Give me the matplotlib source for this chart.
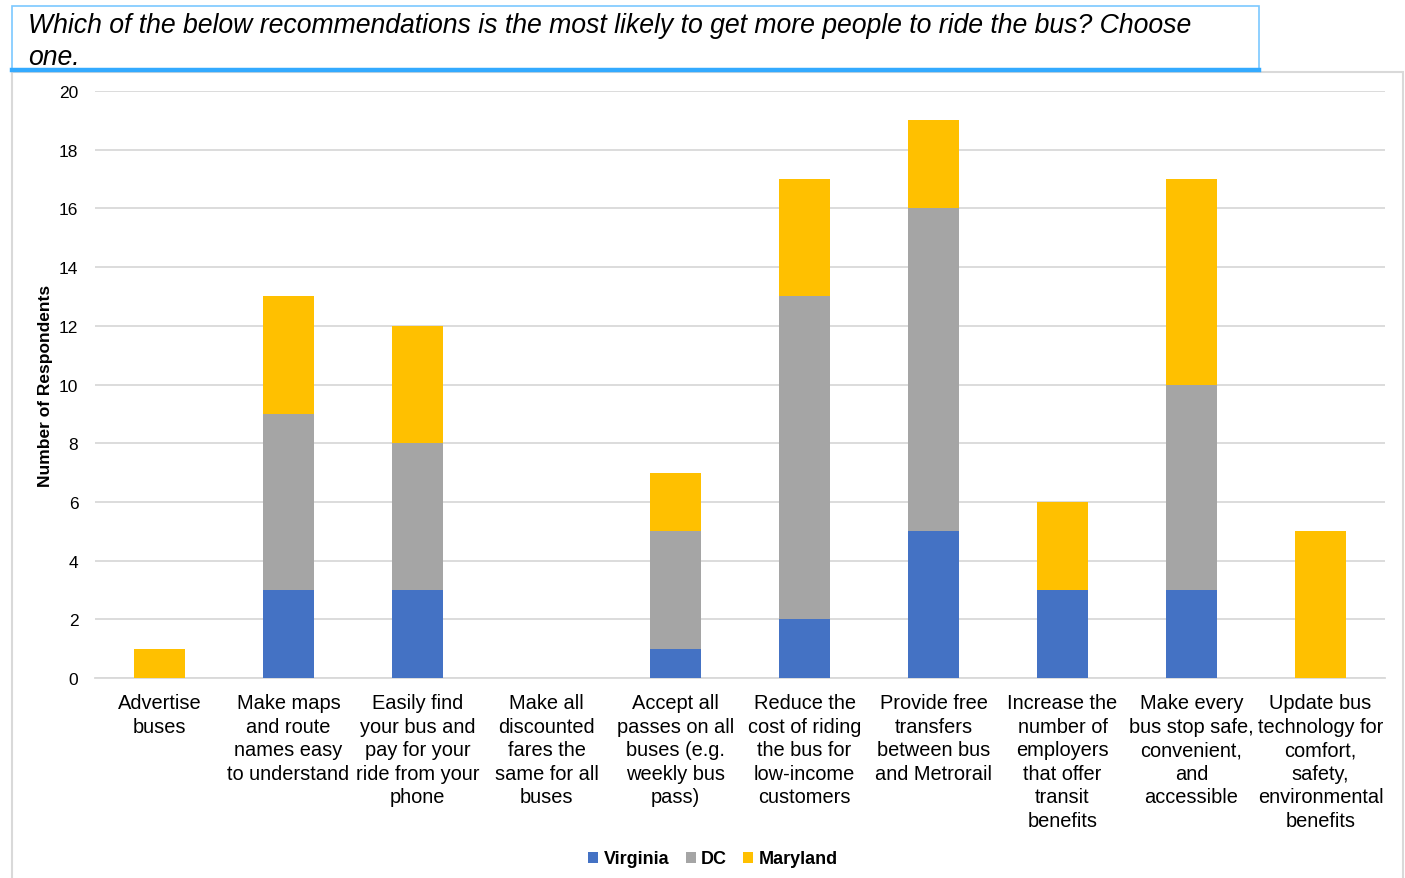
import matplotlib.pyplot as plt
import numpy as np
from matplotlib.patches import Rectangle
from matplotlib.lines import Line2D

plt.rcParams["font.family"] = ["Liberation Sans", "DejaVu Sans"]

categories = [
    "Advertise\nbuses",
    "Make maps\nand route\nnames easy\nto understand",
    "Easily find\nyour bus and\npay for your\nride from your\nphone",
    "Make all\ndiscounted\nfares the\nsame for all\nbuses",
    "Accept all\npasses on all\nbuses (e.g.\nweekly bus\npass)",
    "Reduce the\ncost of riding\nthe bus for\nlow-income\ncustomers",
    "Provide free\ntransfers\nbetween bus\nand Metrorail",
    "Increase the\nnumber of\nemployers\nthat offer\ntransit\nbenefits",
    "Make every\nbus stop safe,\nconvenient,\nand\naccessible",
    "Update bus\ntechnology for\ncomfort,\nsafety,\nenvironmental\nbenefits",
]
virginia = [0, 3, 3, 0, 1, 2, 5, 3, 3, 0]
dc = [0, 6, 5, 0, 4, 11, 11, 0, 7, 0]
maryland = [1, 4, 4, 0, 2, 4, 3, 3, 7, 5]

series = [("Virginia", virginia, "#4472C4"),
          ("DC", dc, "#A5A5A5"),
          ("Maryland", maryland, "#FFC000")]

W, H = 1405, 879
fig = plt.figure(figsize=(W / 100, H / 100), dpi=100)

# outer chart frame
fig.patches.append(Rectangle((12 / W, -0.01), (1403 - 12) / W, (H - 73) / H + 0.01,
                             transform=fig.transFigure, fill=False,
                             edgecolor="#d9d9d9", linewidth=1.5, zorder=0))

# title box
fig.patches.append(Rectangle((12 / W, (H - 71) / H), (1259 - 12) / W, 64 / H,
                             transform=fig.transFigure, facecolor="white",
                             edgecolor="#7cc8ff", linewidth=1.2, zorder=1))
fig.lines.append(Line2D([12 / W, 1259 / W], [(H - 70.5) / H] * 2,
                        transform=fig.transFigure, color="#33aaff",
                        linewidth=3.2, zorder=2))
fig.text(28 / W, (H - 13) / H,
         "Which of the below recommendations is the most likely to get more people to ride the bus? Choose\none.",
         ha="left", va="top", fontsize=19.2, style="italic",
         linespacing=1.3, color="black")

ax = fig.add_axes([95 / W, (H - 679) / H, (1385 - 95) / W, (679 - 92) / H])

x = np.arange(len(categories))
bottom = np.zeros(len(categories))
for name, vals, color in series:
    ax.bar(x, vals, 0.4, bottom=bottom, color=color, label=name, zorder=3)
    bottom += np.array(vals)

ax.set_xlim(-0.5, len(categories) - 0.5)
ax.set_ylim(0, 20)
ax.set_yticks(range(0, 21, 2))
ax.yaxis.grid(True, color="#d9d9d9", linewidth=1.3)
ax.set_axisbelow(True)
for side in ["top", "right", "left"]:
    ax.spines[side].set_visible(False)
ax.spines["bottom"].set_color("#d9d9d9")
ax.spines["bottom"].set_linewidth(1.3)
ax.tick_params(axis="both", length=0)
ax.tick_params(axis="y", labelsize=12.5, pad=12)
ax.tick_params(axis="x", labelsize=14.4, pad=11)
ax.set_xticks(x)
ax.set_xticklabels(categories, linespacing=1.3)
ax.set_ylabel("Number of Respondents", fontsize=12.5, fontweight="bold", labelpad=4)

leg = fig.legend(loc="center", bbox_to_anchor=(713 / W, (H - 860) / H), ncol=3,
                 frameon=False, handlelength=0.55, handleheight=0.55,
                 handletextpad=0.3, columnspacing=0.9,
                 prop={"size": 13, "weight": "bold"})

fig.savefig("out.png", dpi=100)
